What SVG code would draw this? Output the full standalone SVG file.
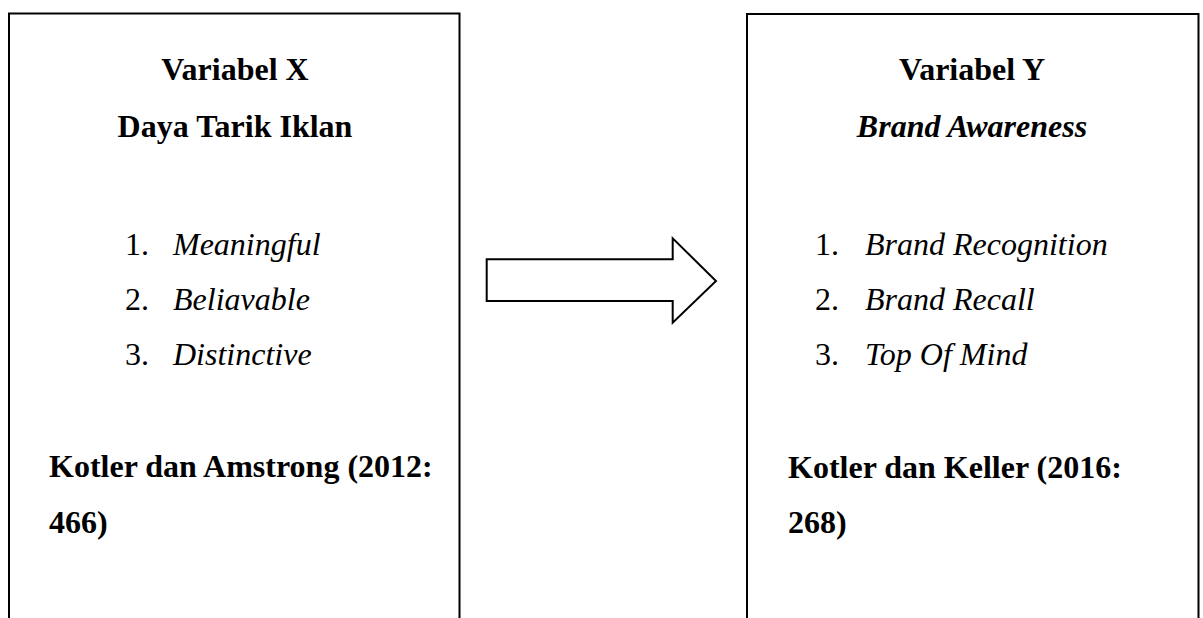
<svg xmlns="http://www.w3.org/2000/svg" width="1203" height="618" viewBox="0 0 1203 618">
<style>
.box{fill:#fff;stroke:#000;stroke-width:2}
.t{font-family:"Liberation Serif","Times New Roman",serif;font-size:32px;fill:#000}
.b{font-weight:bold}
.i{font-style:italic}
.c{text-anchor:middle}
</style>
<rect width="1203" height="618" fill="#fff"/>
<g id="varX">
<rect class="box" x="9" y="13.5" width="450.5" height="620"/>
<text class="t b c" x="235" y="80">Variabel X</text>
<text class="t b c" x="235" y="137">Daya Tarik Iklan</text>
<text class="t" x="125" y="255">1.</text><text class="t i" x="173" y="255">Meaningful</text>
<text class="t" x="125" y="310">2.</text><text class="t i" x="173" y="310">Beliavable</text>
<text class="t" x="125" y="365">3.</text><text class="t i" x="173" y="365">Distinctive</text>
<text class="t b" x="49" y="477">Kotler dan Amstrong (2012:</text>
<text class="t b" x="49" y="533">466)</text>
</g>
<g id="connectors">
<path d="M486.7,259.3 H672.7 V238.3 L716,281 L672.7,322.7 V301 H486.7 Z" fill="#fff" stroke="#000" stroke-width="2"/>
</g>
<g id="varY">
<rect class="box" x="747" y="14" width="451.5" height="620"/>
<text class="t b c" x="972" y="80">Variabel Y</text>
<text class="t b i c" x="972" y="137">Brand Awareness</text>
<text class="t" x="815" y="255">1.</text><text class="t i" x="865" y="255">Brand Recognition</text>
<text class="t" x="815" y="310">2.</text><text class="t i" x="865" y="310">Brand Recall</text>
<text class="t" x="815" y="365">3.</text><text class="t i" x="865" y="365">Top Of Mind</text>
<text class="t b" x="788" y="478">Kotler dan Keller (2016:</text>
<text class="t b" x="788" y="533">268)</text>
</g>
</svg>
